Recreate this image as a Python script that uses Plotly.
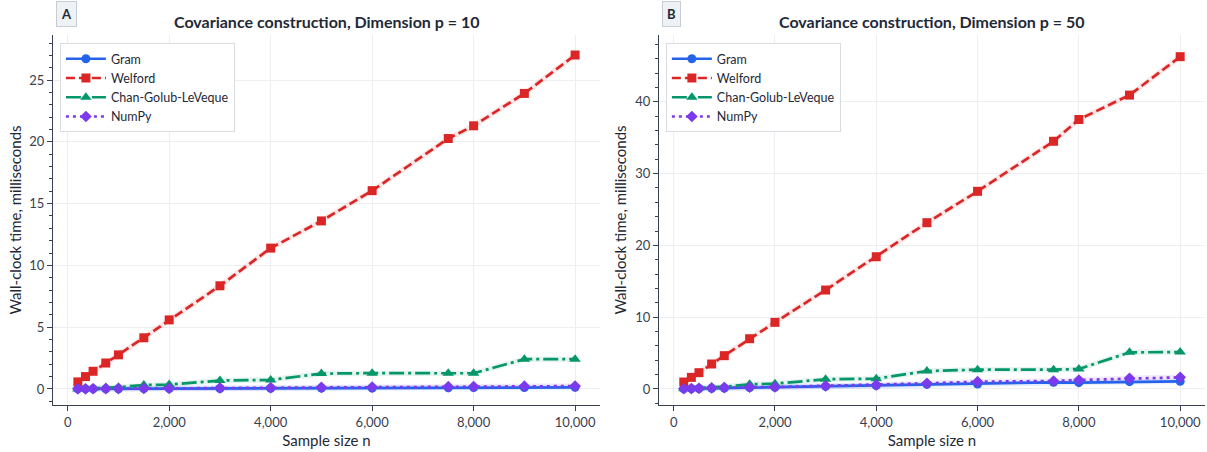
import plotly.graph_objects as go

n = [200, 350, 500, 750, 1000, 1500, 2000, 3000, 4000, 5000, 6000, 7500, 8000, 9000, 10000]

# p = 10 (panel A)
gram_10 = [0.003, 0.005, 0.007, 0.01, 0.015, 0.02, 0.03, 0.04, 0.055, 0.07, 0.08, 0.10, 0.11, 0.12, 0.13]
welford_10 = [0.57, 1.0, 1.43, 2.1, 2.76, 4.14, 5.59, 8.35, 11.4, 13.6, 16.05, 20.27, 21.3, 23.92, 27.03]
cgl_10 = [0.0, 0.03, 0.05, 0.11, 0.14, 0.32, 0.35, 0.68, 0.73, 1.24, 1.28, 1.27, 1.27, 2.41, 2.41]
numpy_10 = [0.006, 0.01, 0.015, 0.02, 0.03, 0.04, 0.05, 0.08, 0.10, 0.13, 0.15, 0.18, 0.19, 0.22, 0.23]

# p = 50 (panel B)
gram_50 = [0.03, 0.05, 0.07, 0.10, 0.14, 0.19, 0.23, 0.37, 0.46, 0.65, 0.70, 0.93, 0.88, 1.02, 1.07]
welford_50 = [0.97, 1.62, 2.27, 3.48, 4.64, 7.0, 9.28, 13.78, 18.42, 23.16, 27.53, 34.5, 37.53, 40.93, 46.28]
cgl_50 = [0.05, 0.09, 0.14, 0.28, 0.32, 0.65, 0.74, 1.35, 1.44, 2.5, 2.69, 2.69, 2.78, 5.1, 5.15]
numpy_50 = [0.03, 0.06, 0.09, 0.14, 0.19, 0.24, 0.28, 0.42, 0.56, 0.79, 1.02, 1.11, 1.25, 1.48, 1.62]

methods = ["Gram", "Welford", "Chan-Golub-LeVeque", "NumPy"]
colors = ["#2563eb", "#dc2626", "#059669", "#7c3aed"]
halo = ["rgba(37,99,235,0.10)", "rgba(220,38,38,0.10)", "rgba(5,150,105,0.10)", "rgba(124,58,237,0.10)"]
dashes = ["solid", "9px,4px", "15px,4px,3px,4px", "3px,4px"]
symbols = ["circle", "square", "triangle-up", "diamond"]

panels = [
    ("x", "y", "legend", [gram_10, welford_10, cgl_10, numpy_10]),
    ("x2", "y2", "legend2", [gram_50, welford_50, cgl_50, numpy_50]),
]

FONT = "Lato"
fig = go.Figure()
for xa, ya, lg, series in panels:
    for i, vals in enumerate(series):
        fig.add_trace(go.Scatter(
            x=n, y=vals, xaxis=xa, yaxis=ya, mode="lines",
            line=dict(color=halo[i], width=5.5), showlegend=False, hoverinfo="skip"))
    for i, vals in enumerate(series):
        fig.add_trace(go.Scatter(
            x=n, y=vals, xaxis=xa, yaxis=ya, name=methods[i], legend=lg,
            mode="lines+markers",
            line=dict(color=colors[i], width=2.7, dash=dashes[i]),
            marker=dict(symbol=symbols[i], size=9 if symbols[i] != "triangle-up" else 10,
                        color=colors[i], line=dict(width=0))))

axis_common = dict(
    showline=True, linecolor="#374151", linewidth=1.2, mirror=False,
    showgrid=True, gridcolor="#eceef2", gridwidth=1, zeroline=False,
    ticks="outside", ticklen=5, tickcolor="#374151",
    tickfont=dict(family=FONT, size=13, color="#374151"),
)

fig.update_layout(
    width=1207, height=452,
    margin=dict(l=53, r=2, t=35, b=47),
    paper_bgcolor="white", plot_bgcolor="white",
    font=dict(family=FONT, color="#1f2937"),
    xaxis=dict(domain=[0, 0.4748], range=[-290, 10490], tickvals=[0, 2000, 4000, 6000, 8000, 10000],
               tickformat=",", anchor="y",
               title=dict(text="Sample size n", font=dict(family=FONT, size=15, color="#1f2937"), standoff=6),
               **axis_common),
    yaxis=dict(domain=[0, 1], range=[-1.3, 28.65], tickvals=[0, 5, 10, 15, 20, 25], anchor="x",
               minor=dict(dtick=1, tick0=0, ticks="outside", ticklen=3, tickcolor="#374151", showgrid=False),
               title=dict(text="Wall-clock time, milliseconds", font=dict(family=FONT, size=15, color="#1f2937"), standoff=3),
               **axis_common),
    xaxis2=dict(domain=[0.526, 1.0], range=[-290, 10490], tickvals=[0, 2000, 4000, 6000, 8000, 10000],
                tickformat=",", anchor="y2",
                title=dict(text="Sample size n", font=dict(family=FONT, size=15, color="#1f2937"), standoff=6),
                **axis_common),
    yaxis2=dict(domain=[0, 1], range=[-2.23, 49.3], tickvals=[0, 10, 20, 30, 40], anchor="x2",
                minor=dict(dtick=2, tick0=0, ticks="outside", ticklen=3, tickcolor="#374151", showgrid=False),
                title=dict(text="Wall-clock time, milliseconds", font=dict(family=FONT, size=15, color="#1f2937"), standoff=4),
                **axis_common),
    legend=dict(x=0.006, y=0.978, xanchor="left", yanchor="top", bgcolor="white",
                bordercolor="#d9dce1", borderwidth=1, font=dict(family=FONT, size=12.5, color="#1f2937"),
                tracegroupgap=0, itemwidth=40),
    legend2=dict(x=0.532, y=0.978, xanchor="left", yanchor="top", bgcolor="white",
                 bordercolor="#d9dce1", borderwidth=1, font=dict(family=FONT, size=12.5, color="#1f2937"),
                 tracegroupgap=0, itemwidth=40),
    showlegend=True,
)

titles = [("Covariance construction, Dimension p = 10", 0.2374, "A", 0.0),
          ("Covariance construction, Dimension p = 50", 0.763, "B", 0.526)]
for t, xc, lab, x0 in titles:
    fig.add_annotation(text=f"<b>{t}</b>", x=xc, y=1, xref="paper", yref="paper",
                       xanchor="center", yanchor="bottom", yshift=2, showarrow=False,
                       font=dict(family=FONT, size=16, color="#1f2937"))
    fig.add_annotation(text=f"<b>{lab}</b>", x=x0, y=1, xref="paper", yref="paper",
                       xanchor="left", yanchor="bottom", xshift=3, yshift=8, showarrow=False,
                       bgcolor="#eef1f5", bordercolor="#c8ccd3", borderwidth=1, borderpad=4,
                       font=dict(family=FONT, size=13, color="#1f2937"))

fig.write_html("out.html")
